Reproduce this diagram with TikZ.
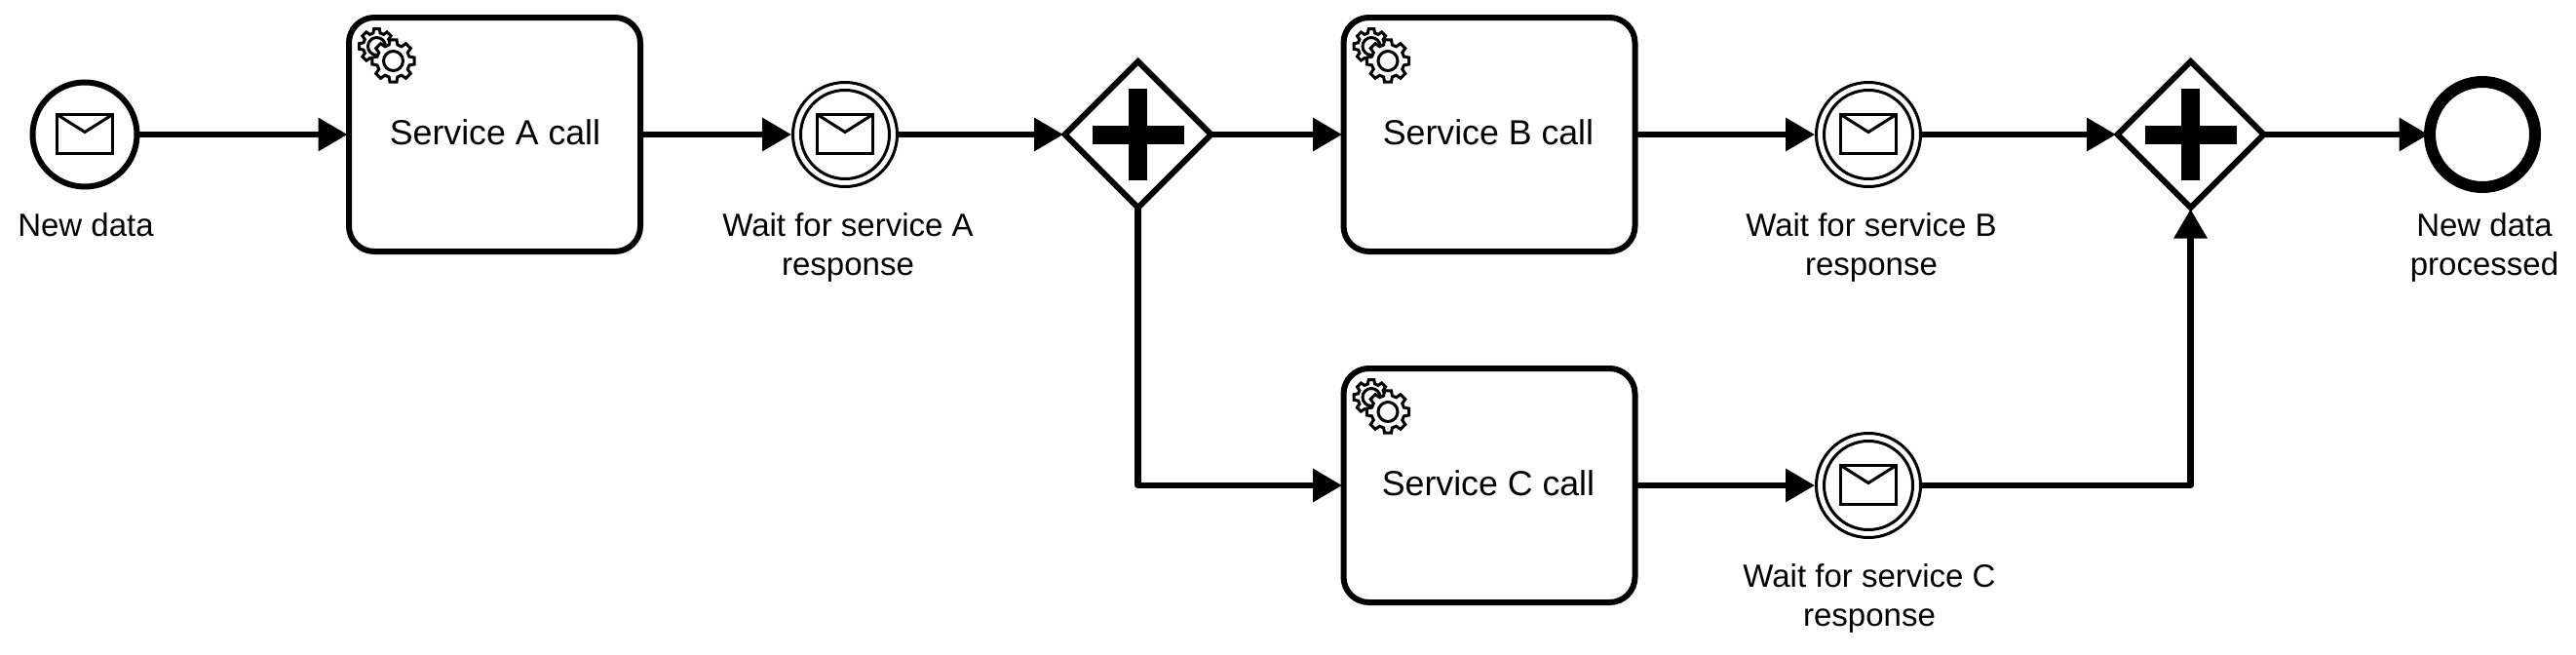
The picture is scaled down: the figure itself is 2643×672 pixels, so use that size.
\documentclass[tikz,border=0pt]{standalone}
\usepackage{fontspec}
\setmainfont{Liberation Sans}
\usetikzlibrary{arrows.meta,shapes.geometric,calc}
\tikzset{
  x=1pt,y=-1pt,
  evt/.style={circle,draw=black,fill=white,inner sep=0pt,outer sep=1.5pt},
  startevt/.style={evt,line width=6pt,minimum size=107pt},
  catchevt/.style={evt,line width=3pt,minimum size=107pt},
  catchinner/.style={circle,draw=black,line width=3pt,inner sep=0pt,outer sep=0pt,minimum size=91pt},
  endevt/.style={evt,line width=12pt,minimum size=108pt},
  taskbox/.style={rectangle,draw=black,fill=white,line width=6pt,rounded corners=26pt,minimum width=299pt,minimum height=240pt,inner sep=0pt,outer sep=1.5pt},
  gatebox/.style={diamond,draw=black,fill=white,line width=6pt,aspect=1,minimum width=150pt,minimum height=150pt,inner sep=0pt,outer sep=0pt},
  flow/.style={draw=black,line width=6.5pt,line join=round,-{Triangle[length=30pt,width=33pt]}},
  togate/.style={flow,shorten >=1.5pt},
  tasktext/.style={font=\fontsize{35.7}{40}\selectfont,align=center,inner sep=0pt,text=black},
  lbl/.style={font=\fontsize{33}{40}\selectfont,align=center,inner sep=0pt,text=black},
  envelope/.pic={
    \draw[black,line width=3pt,fill=white,line join=miter] (-28.5,-20.5) rectangle (28.5,19.5);
    \draw[black,line width=3pt,line join=miter] (-28.5,-20.5) -- (0,-2.5) -- (28.5,-20.5);
  },
  plusmark/.pic={
    \fill[black] (-47,-9.5) rectangle (47,9.5);
    \fill[black] (-9.5,-47) rectangle (9.5,47);
  },
  cogs/.pic={
    \draw[black,line width=3pt,fill=white,line join=miter] ($(-17,-15)+(-15:14)$)
      \foreach \a in {0,45,...,315}{ -- ($(-17,-15)+(\a-15:14)$) -- ($(-17,-15)+(\a-9:18)$) -- ($(-17,-15)+(\a+9:18)$) -- ($(-17,-15)+(\a+15:14)$) } -- cycle;
    \draw[black,line width=3pt,fill=white] (-17,-15) circle (9);
    \draw[black,line width=3pt,fill=white,line join=miter] (-15:17)
      \foreach \a in {0,45,...,315}{ -- (\a-15:17) -- (\a-9:22) -- (\a+9:22) -- (\a+15:17) } -- cycle;
    \draw[black,line width=3pt,fill=white] (0,0) circle (10);
  }
}
\begin{document}
\begin{tikzpicture}
\useasboundingbox (0,0) rectangle (2643,672);
\node[startevt] (start) at (87,138) {};
\node[taskbox] (taskA) at (507.5,138) {};
\node[catchevt] (catchA) at (867,138) {};
\node[catchinner] (innerA) at (catchA.center) {};
\node[gatebox] (gateA) at (1167.5,138) {};
\node[taskbox] (taskB) at (1528,138) {};
\node[catchevt] (catchB) at (1917,138) {};
\node[catchinner] (innerB) at (catchB.center) {};
\node[gatebox] (gateB) at (2247.5,138) {};
\node[endevt] (stop) at (2547,138) {};
\node[taskbox] (taskC) at (1528,498) {};
\node[catchevt] (catchC) at (1917,498) {};
\node[catchinner] (innerC) at (catchC.center) {};

\pic at (start.center) {envelope};
\pic at (catchA.center) {envelope};
\pic at (catchB.center) {envelope};
\pic at (catchC.center) {envelope};
\pic at (gateA.center) {plusmark};
\pic at (gateB.center) {plusmark};
\pic at ($(taskA.north west)+(47,46)$) {cogs};
\pic at ($(taskB.north west)+(47,46)$) {cogs};
\pic at ($(taskC.north west)+(47,46)$) {cogs};

\draw[flow] (start) -- (taskA);
\draw[flow] (taskA) -- (catchA);
\draw[togate] (catchA) -- (gateA);
\draw[flow] (gateA) -- (taskB);
\draw[flow] (taskB) -- (catchB);
\draw[togate] (catchB) -- (gateB);
\draw[flow] (gateB) -- (stop);
\draw[flow] (gateA.south) |- (taskC.west);
\draw[flow] (taskC) -- (catchC);
\draw[togate] (catchC.east) -| (gateB.south);

\node[tasktext,anchor=base] (textA) at (508,148) {Service A call};
\node[tasktext,anchor=base] (textB) at (1527,148) {Service B call};
\node[tasktext,anchor=base] (textC) at (1527,508) {Service C call};
\node[lbl,anchor=base] (lblStart) at (88,242) {New data};
\node[lbl,anchor=base] (lblA1) at (870,282) {Wait for service A\\response};
\node[lbl,anchor=base] (lblB1) at (1920,282) {Wait for service B\\response};
\node[lbl,anchor=base] (lblC1) at (1918,642) {Wait for service C\\response};
\node[lbl,anchor=base] (lblStop) at (2549,282) {New data\\processed};
\end{tikzpicture}
\end{document}
